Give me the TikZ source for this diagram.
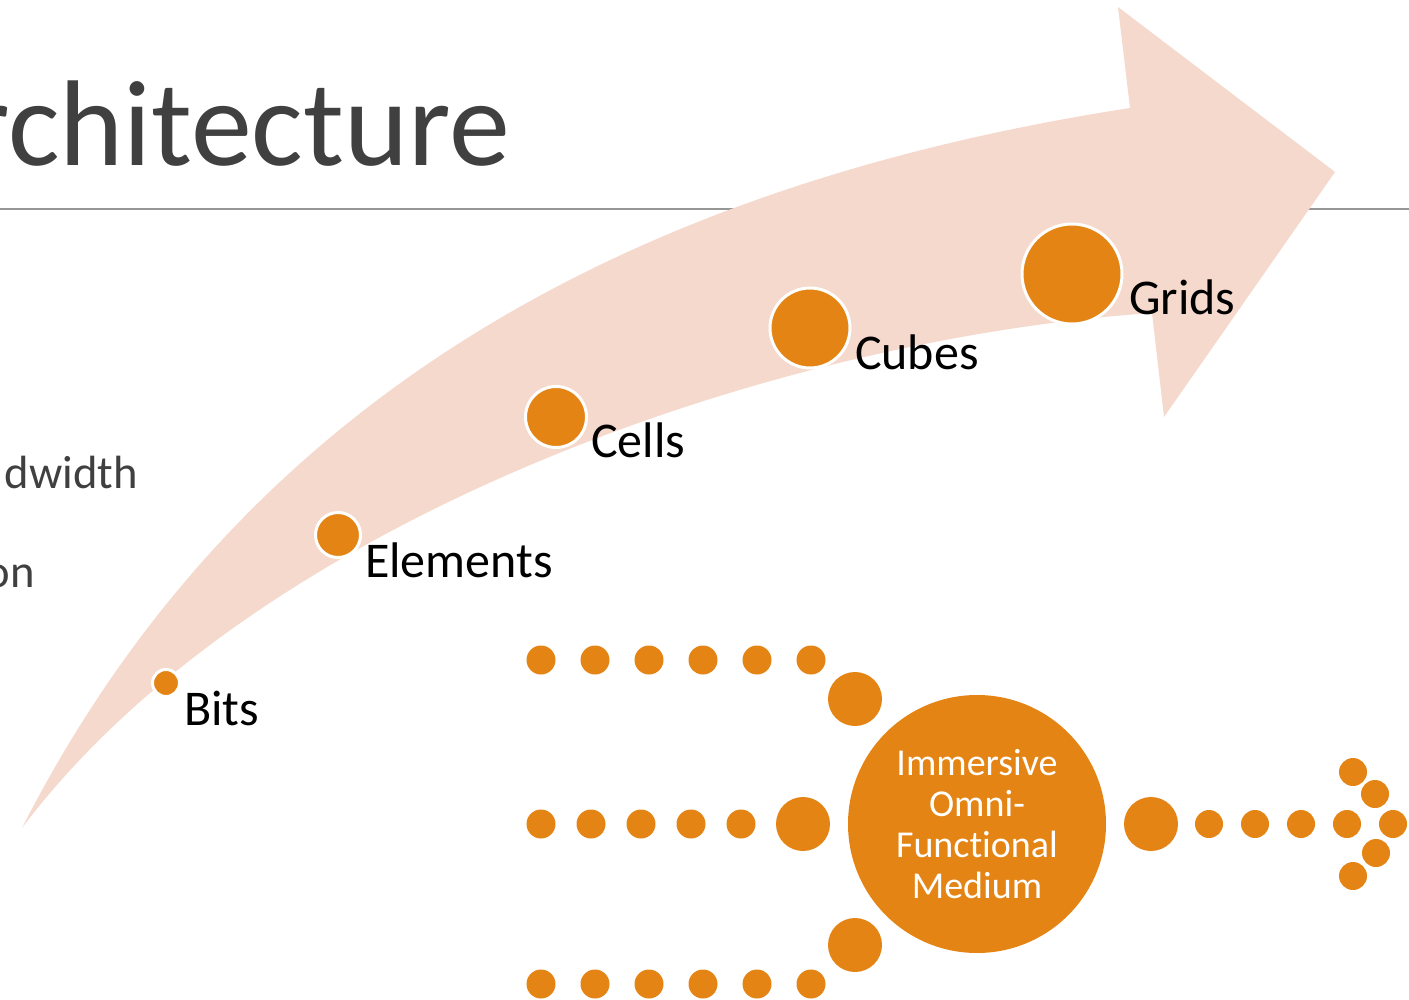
\documentclass[tikz,border=0pt]{standalone}
\usepackage{fontspec}
\setmainfont{Carlito}[Ligatures=NoCommon]
\usepackage{tikz}

\begin{document}
\begin{tikzpicture}[x=0.5pt,y=-0.5pt,
  stage/.style={circle,fill=dotColor,draw=white,line width=1.5pt,inner sep=0pt,minimum size=#1pt},
  dotnode/.style={circle,fill=dotColor,inner sep=0pt,minimum size=#1pt},
  stagelabel/.style={text=black,anchor=base west,inner sep=0pt,outer sep=0pt,font=\fontsize{25}{30}\selectfont},
  sidetext/.style={text=textColor,anchor=base east,inner sep=0pt,outer sep=0pt,font=\fontsize{23.3}{28}\selectfont}]
\definecolor[named]{dotColor}{RGB}{228,132,20}
\definecolor[named]{arrowColor}{RGB}{245,217,205}
\definecolor[named]{textColor}{RGB}{64,64,64}
\definecolor[named]{ruleColor}{RGB}{150,150,150}
\path[use as bounding box] (0,0) rectangle (1409,1000);
\begin{scope}
\path[clip] (0,0) rectangle (1409,1000);

% title and rule
\node[text=textColor,anchor=base east,inner sep=0pt,outer sep=0pt,font=\fontsize{61}{70}\selectfont] (title) at (510,166) {rchitecture};
\path[draw=ruleColor,line width=0.75pt] (0,209) -- (1409,209);

\node[sidetext] (bandwidth) at (138,488) {dwidth};
\node[sidetext] (onText) at (35,587) {on};

% curved arrow
\path[fill=arrowColor] (22,828) .. controls (250,525) and (760,340) .. (1152,313) --
	(1164,417) --
	(1335,172) --
	(1118,7) --
	(1130,108) .. controls (600,190) and (230,420) .. (22,828) -- cycle;

% stages
\node[stage=13.5] (bits) at (166,683) {};
\node[stage=22.5] (elements) at (338,535) {};
\node[stage=30.5] (cells) at (556,417) {};
\node[stage=40] (cubes) at (810,328) {};
\node[stage=50] (grids) at (1072,274) {};

\node[stagelabel] (bitsLabel) at (184,725) {Bits};
\node[stagelabel] (elementsLabel) at (365,577) {Elements};
\node[stagelabel] (cellsLabel) at (591,458) {Cells};
\node[stagelabel] (cubesLabel) at (855,370) {Cubes};
\node[stagelabel] (gridsLabel) at (1129,315) {Grids};

% converging dots
\node[dotnode=14.5] (topA) at (541,660) {};
\node[dotnode=14.5] (topB) at (595,660) {};
\node[dotnode=14.5] (topC) at (649,660) {};
\node[dotnode=14.5] (topD) at (703,660) {};
\node[dotnode=14.5] (topE) at (757,660) {};
\node[dotnode=14.5] (topF) at (811,660) {};
\node[dotnode=27] (topBig) at (855,699) {};

\node[dotnode=14.5] (midA) at (541,824) {};
\node[dotnode=14.5] (midB) at (591,824) {};
\node[dotnode=14.5] (midC) at (641,824) {};
\node[dotnode=14.5] (midD) at (691,824) {};
\node[dotnode=14.5] (midE) at (741,824) {};
\node[dotnode=27] (midBig) at (803,824) {};

\node[dotnode=14.5] (botA) at (541,984) {};
\node[dotnode=14.5] (botB) at (595,984) {};
\node[dotnode=14.5] (botC) at (649,984) {};
\node[dotnode=14.5] (botD) at (703,984) {};
\node[dotnode=14.5] (botE) at (757,984) {};
\node[dotnode=14.5] (botF) at (811,984) {};
\node[dotnode=27] (botBig) at (855,945) {};

\node[dotnode=129,text=white,align=center,font=\fontsize{19}{20.5}\selectfont] (medium) at (977,824) {Immersive\\Omni-\\Functional\\Medium};

% outgoing dots
\node[dotnode=27] (outBig) at (1151,824) {};
\node[dotnode=14] (outA) at (1209,824) {};
\node[dotnode=14] (outB) at (1255,824) {};
\node[dotnode=14] (outC) at (1301,824) {};
\node[dotnode=14] (outD) at (1347,824) {};
\node[dotnode=14] (outTip) at (1393,824) {};
\node[dotnode=14] (headA) at (1353,772) {};
\node[dotnode=14] (headB) at (1375,794) {};
\node[dotnode=14] (headC) at (1376,853) {};
\node[dotnode=14] (headD) at (1353,876) {};
\end{scope}
\end{tikzpicture}
\end{document}
